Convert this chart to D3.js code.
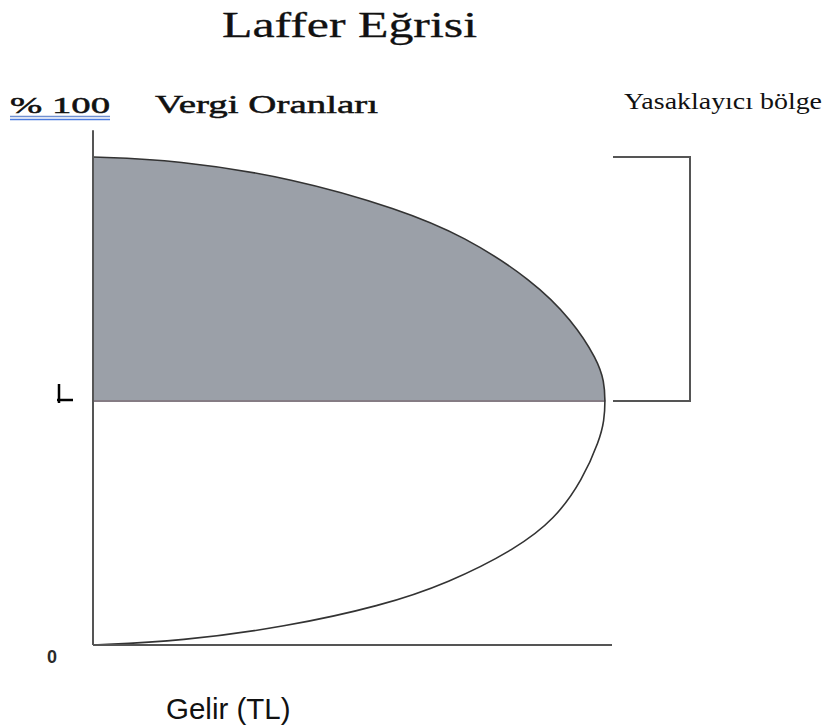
<!DOCTYPE html>
<html>
<head>
<meta charset="utf-8">
<script src="https://cdn.jsdelivr.net/npm/d3@7"></script>
<style>
  body { margin: 0; background: #fff; }
  svg { display: block; }
</style>
</head>
<body>
<div id="chart"></div>
<script>
// Laffer curve: revenue (x) for each tax rate (y)
const rates = [0, 0.8, 3.7, 8.0, 12.7, 19.7, 25.8, 33.8, 42.0, 46, 50, 54, 58.4, 66.6, 74.8, 83.8, 89.3, 95.7, 99.4, 100];
const revenue = [0, 17.0, 37.0, 55.5, 68.5, 81.5, 89.0, 94.3, 97.6, 98.5, 98.7, 98.5, 97.2, 92.3, 84.6, 71.5, 59.0, 38.5, 16.0, 0];
const peakRate = 50;
const bandLabel = "Yasaklayıcı bölge";
const axisLabels = { top: "% 100", y: "Vergi Oranları", zero: "0", x: "Gelir (TL)" };
const chartTitle = "Laffer Eğrisi";

const width = 823, height = 728;
const margin = { left: 93, right: 211, top: 157, bottom: 83 };

const data = rates.map((r, i) => ({ rate: r, rev: revenue[i] }));

const svg = d3.select("#chart").append("svg")
    .attr("width", width)
    .attr("height", height)
    .attr("viewBox", [0, 0, width, height]);

const x = d3.scaleLinear().domain([0, 100]).range([margin.left, width - margin.right]);
const y = d3.scaleLinear().domain([0, 100]).range([height - margin.bottom, margin.top]);

const curve = d3.curveBasis;

// shaded prohibitive range (rate above the peak)
const upper = data.filter(d => d.rate >= peakRate);
const area = d3.area()
    .y(d => y(d.rate))
    .x0(x(0))
    .x1(d => x(d.rev))
    .curve(curve);
svg.append("path")
    .datum(upper)
    .attr("d", area)
    .attr("fill", "#9ba0a8");

// line across at the peak rate
const peakRev = data.find(d => d.rate === peakRate).rev;
svg.append("line")
    .attr("x1", x(0)).attr("x2", x(peakRev))
    .attr("y1", y(peakRate)).attr("y2", y(peakRate))
    .attr("stroke", "#857c84")
    .attr("stroke-width", 2);

// the curve
const line = d3.line()
    .x(d => x(d.rev))
    .y(d => y(d.rate))
    .curve(curve);
svg.append("path")
    .datum(data)
    .attr("d", line)
    .attr("fill", "none")
    .attr("stroke", "#333")
    .attr("stroke-width", 1.6);

// axes (plain lines, no ticks)
svg.append("line")
    .attr("x1", x(0)).attr("x2", x(0))
    .attr("y1", y(0)).attr("y2", y(105.5))
    .attr("stroke", "#555").attr("stroke-width", 2);
svg.append("line")
    .attr("x1", x(0)).attr("x2", x(100))
    .attr("y1", y(0)).attr("y2", y(0))
    .attr("stroke", "#555").attr("stroke-width", 2);

// bracket for the prohibitive range
const bx0 = x(100) + 1, bx1 = x(100) + 78;
svg.append("path")
    .attr("d", `M${bx0},${y(100)}H${bx1}V${y(peakRate)}H${bx0}`)
    .attr("fill", "none")
    .attr("stroke", "#555")
    .attr("stroke-width", 2);

// small mark at the peak rate on the left
const my = y(peakRate);
svg.append("path")
    .attr("d", `M59,${my - 17}V${my + 2}M57,${my - 1}H73`)
    .attr("fill", "none")
    .attr("stroke", "#000")
    .attr("stroke-width", 2.5);

// texts
const serif = "'Liberation Serif', 'Times New Roman', serif";
svg.append("text")
    .attr("x", 222).attr("y", 37)
    .attr("font-family", serif).attr("font-size", 36)
    .attr("textLength", 255).attr("lengthAdjust", "spacingAndGlyphs")
    .attr("fill", "#111").attr("stroke", "#111").attr("stroke-width", 0.3)
    .text(chartTitle);

svg.append("text")
    .attr("x", 10).attr("y", 113)
    .attr("font-family", serif).attr("font-size", 24)
    .attr("textLength", 100).attr("lengthAdjust", "spacingAndGlyphs")
    .attr("fill", "#111").attr("stroke", "#111").attr("stroke-width", 0.5)
    .text(axisLabels.top);
svg.append("line").attr("x1", 10).attr("x2", 110).attr("y1", 116.5).attr("y2", 116.5)
    .attr("stroke", "#6f8fd0").attr("stroke-width", 1.5);
svg.append("line").attr("x1", 10).attr("x2", 110).attr("y1", 119.5).attr("y2", 119.5)
    .attr("stroke", "#4b7be0").attr("stroke-width", 1.5);

svg.append("text")
    .attr("x", 155).attr("y", 113)
    .attr("font-family", serif).attr("font-size", 26)
    .attr("textLength", 223).attr("lengthAdjust", "spacingAndGlyphs")
    .attr("fill", "#111").attr("stroke", "#111").attr("stroke-width", 0.5)
    .text(axisLabels.y);

svg.append("text")
    .attr("x", 624).attr("y", 109)
    .attr("font-family", serif).attr("font-size", 24)
    .attr("textLength", 198).attr("lengthAdjust", "spacingAndGlyphs")
    .attr("fill", "#111")
    .text(bandLabel);

svg.append("text")
    .attr("x", 52).attr("y", 663)
    .attr("text-anchor", "middle")
    .attr("font-family", "'Liberation Sans', Arial, sans-serif")
    .attr("font-size", 18).attr("font-weight", "bold")
    .attr("fill", "#2a2a2a")
    .text(axisLabels.zero);

svg.append("text")
    .attr("x", 166).attr("y", 719)
    .attr("font-family", "'Liberation Sans', Arial, sans-serif")
    .attr("font-size", 29.5)
    .attr("fill", "#111")
    .text(axisLabels.x);
</script>
</body>
</html>
